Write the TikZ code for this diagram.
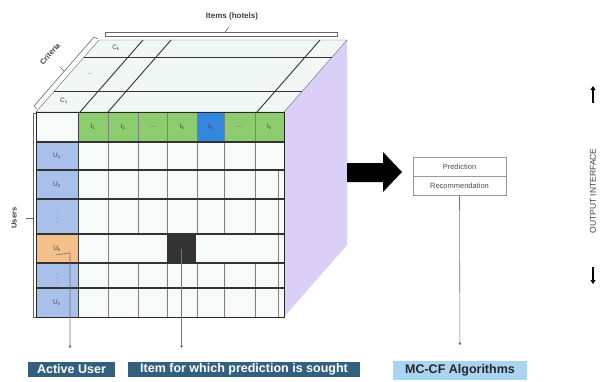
\documentclass[tikz,border=0pt]{standalone}
\usepackage{fontspec}
\setmainfont{Liberation Sans}
\usetikzlibrary{arrows.meta}

\definecolor{usercol}{HTML}{A9C1EA}
\definecolor{activecol}{HTML}{F2C088}
\definecolor{itemcol}{HTML}{8CCB6E}
\definecolor{targetcol}{HTML}{3387DC}
\definecolor{sidecol}{HTML}{DCCFF7}
\definecolor{topcol}{HTML}{F0F7F4}
\definecolor{cellcol}{HTML}{F6FAF9}
\definecolor{tagcol}{HTML}{33607F}
\definecolor{algocol}{HTML}{A9D5F2}

\newcommand{\cdotsrow}{\textperiodcentered\textperiodcentered\textperiodcentered}

\begin{document}
\begin{tikzpicture}[x=1pt,y=-1pt,
    lbl/.style={font=\fontsize{6.5}{7}\selectfont, text=black!75},
    tag/.style={fill=tagcol, text=white, font=\fontsize{12.5}{14}\bfseries\selectfont, inner sep=2pt, minimum height=15pt},
    outbox/.style={draw=black!40, minimum width=93pt, minimum height=19pt, font=\fontsize{7.5}{8}\selectfont, text=black!70},
    rowline/.style={draw=black!80, line width=1.1pt},
    colline/.style={draw=black!50, line width=0.7pt},
    pointer/.style={draw=black!55, line width=0.6pt, -{Circle[length=2.5pt]}},
    bracket/.style={draw=black!60, line width=0.6pt}]
    \useasboundingbox (0,0) rectangle (600,381);

    % side and top of the cube
    \fill[sidecol] (284,112) -- (347,40) -- (347,245) -- (284,317) -- cycle;
    \filldraw[fill=topcol, draw=black!60] (36,112) -- (99,40) -- (347,40) -- (284,112) -- cycle;
    \foreach \t in {0.28,0.76}
        \draw[rowline, line width=0.9pt] ({36+63*\t},{112-72*\t}) -- ({284+63*\t},{112-72*\t});
    \foreach \x in {80,108,257}
        \draw[rowline, line width=0.9pt] (\x,112) -- ({\x+63},40);
    \node[lbl] (c1) at (64,101) {C\textsubscript{1}};
    \node[lbl, text=black!40] (cdots) at (90,75) {--};
    \node[lbl] (ck) at (116,48) {C\textsubscript{k}};

    % front face: users x items
    \fill[cellcol] (36,112) rectangle (284,317);
    \fill[usercol] (36,142) rectangle (78,317);
    \fill[activecol] (36,234) rectangle (78,263);
    \fill[itemcol] (78,112) rectangle (284,142);
    \fill[targetcol] (197,112) rectangle (224,142);
    \node[fill=black!80, minimum width=29pt, minimum height=29pt, inner sep=0pt] (target) at (181.5,248.5) {};

    \draw[colline] (108,112) -- (108,317);
    \foreach \x in {138,167,197,224,255} {
        \draw[colline] (\x,112) -- (\x,234);
        \draw[colline] (\x,263) -- (\x,317);
    }
    \draw[colline, line width=0.5pt] (278,170) -- (278,317);
    \draw[colline, draw=black!75, line width=0.9pt] (78,112) -- (78,317);
    \foreach \y in {142,170,199,234,263,288}
        \draw[rowline] (36,\y) -- (284,\y);
    \draw[draw=black!85, line width=1pt] (36,112) rectangle (284,317);

    % item headers
    \foreach \x/\lab [count=\i] in {93/I\textsubscript{1}, 123/I\textsubscript{2}, 152.5/\cdotsrow,
        182/I\textsubscript{k}, 210.5/I\textsubscript{k}, 239.5/\cdotsrow, 269.5/I\textsubscript{n}}
        \node[lbl] (item\i) at (\x,127) {\lab};

    % user labels
    \node[lbl] (u1) at (57,156) {U\textsubscript{1}};
    \node[lbl] (u2) at (57,184.5) {U\textsubscript{2}};
    \node[lbl, text=black!60] (ud1) at (57,216.5) {$\vdots$};
    \node[lbl] (uk) at (57,248.5) {U\textsubscript{k}};
    \node[lbl, text=black!60] (ud2) at (57,275.5) {$\vdots$};
    \node[lbl] (un) at (57,302.5) {U\textsubscript{n}};

    % brackets round the cube
    \draw[bracket] (36,113) -- (33,113) -- (33,317) -- (36,317);
    \draw[bracket] (33,218) -- (26,218);
    \node[font=\fontsize{7.5}{8}\bfseries\selectfont, text=black!75, rotate=90] (users) at (14,218) {Users};
    \draw[bracket] (37,109) -- (34,106) -- (94,37) -- (98,39);
    \draw[bracket] (64,71) -- (60,67);
    \node[font=\fontsize{7.5}{8}\bfseries\selectfont, text=black!75, rotate=49, inner sep=1pt] (criteria) at (50,54) {Criteria};
    \draw[bracket, fill=white] (105,32) rectangle (337,36);
    \draw[bracket] (225,32) -- (229,27);
    \node[font=\fontsize{8}{9}\bfseries\selectfont, text=black!75] (items) at (232,16) {Items (hotels)};

    % output side
    \fill (347,163) -- (383,163) -- (383,152) -- (402,172) -- (383,192) -- (383,182) -- (347,182) -- cycle;
    \node[outbox] (pred) at (459.5,166.5) {Prediction};
    \node[outbox] (rec) at (459.5,185.5) {Recommendation};
    \node[font=\fontsize{8.5}{9}\selectfont, text=black!75, rotate=90] (outif) at (593,191) {OUTPUT INTERFACE};
    \coordinate (upfrom) at (593,103);
    \coordinate (upto) at (593,86);
    \coordinate (downfrom) at (593,267);
    \coordinate (downto) at (593,284);
    \draw[line width=2pt, -{Triangle[length=4pt,width=5pt]}] (upfrom) -- (upto);
    \draw[line width=2pt, -{Triangle[length=4pt,width=5pt]}] (downfrom) -- (downto);

    % tags along the bottom
    \node[tag, minimum width=87pt] (active) at (71.5,369.5) {Active User};
    \node[tag, minimum width=232pt] (sought) at (244,369.5) {Item for which prediction is sought};
    \node[tag, fill=algocol, text=black!85, minimum width=134pt, minimum height=19pt] (algo) at (460,370.5) {MC-CF Algorithms};

    \coordinate (ukbend) at (70,253);
    \draw[pointer, shorten >=14pt] ([xshift=-1pt]uk.south) -- (ukbend) -- (ukbend |- active.north);
    \draw[pointer, shorten >=14pt] (target.center) -- (target.center |- sought.north);
    \draw[pointer, shorten >=16pt] (rec.south) -- (algo.north);
\end{tikzpicture}
\end{document}
